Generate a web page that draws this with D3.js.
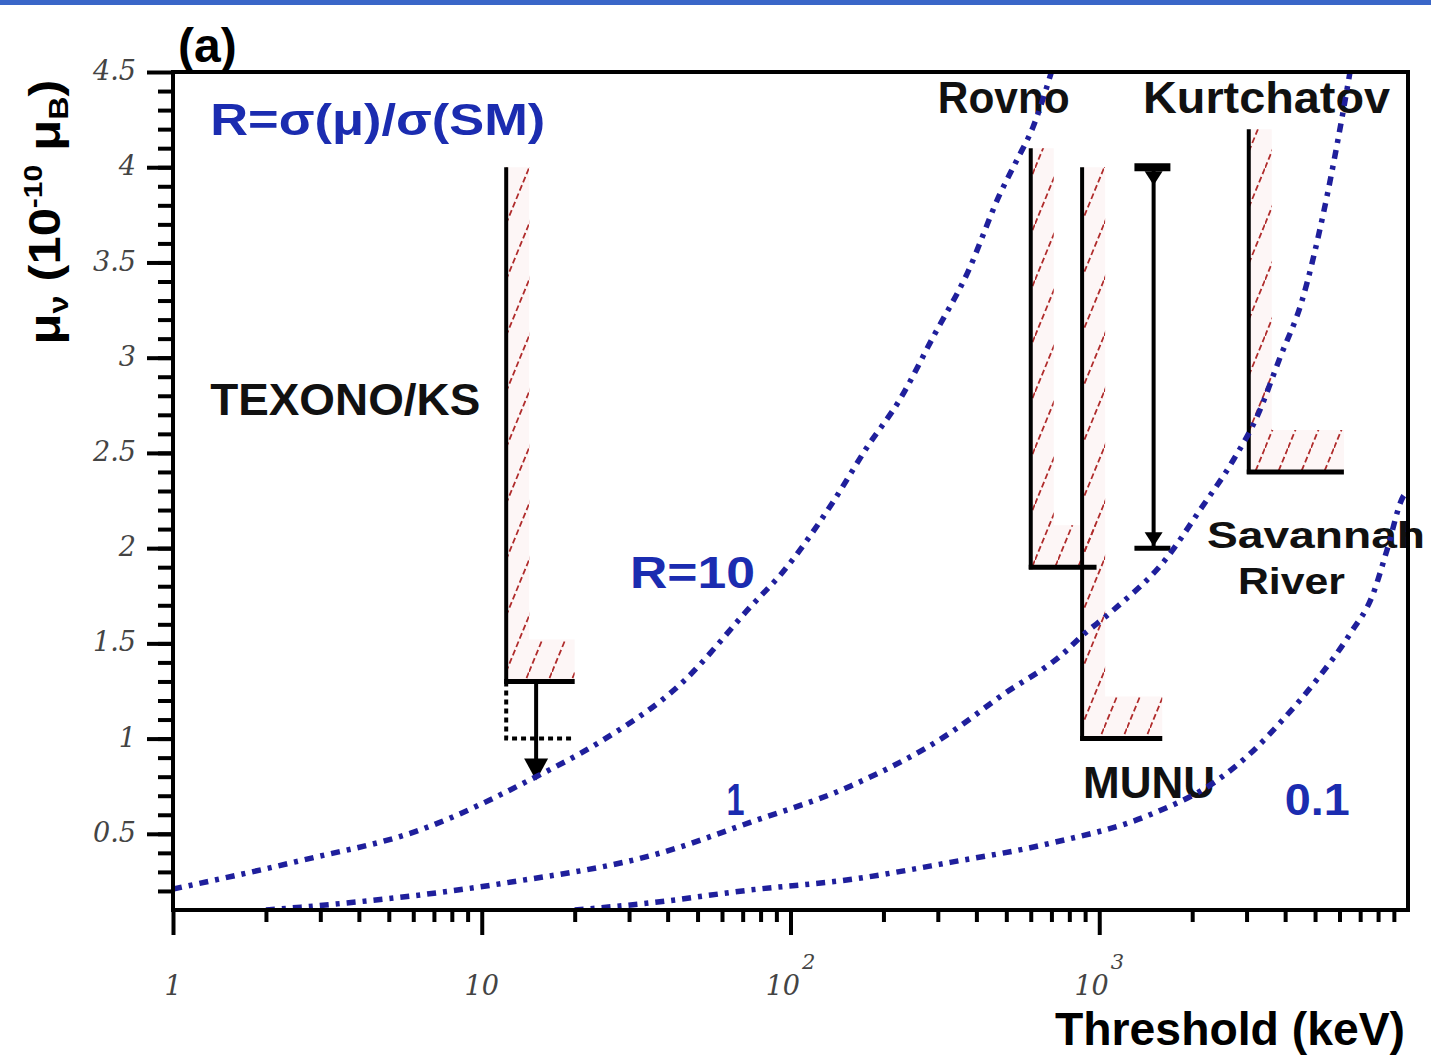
<!DOCTYPE html>
<html>
<head>
<meta charset="utf-8">
<script src="https://cdn.jsdelivr.net/npm/d3@7"></script>
<style>
  body { margin: 0; background: #fff; }
  svg { display: block; }
  .lab { font-family: "Liberation Sans", Arial, sans-serif; font-weight: bold; }
  .tick-lab { font-family: "DejaVu Serif", serif; font-style: italic; fill: #444; font-size: 27px; }
</style>
</head>
<body>
<div id="chart"></div>
<script>
// threshold (keV) vs mu_nu (1e-10 mu_B)
var r10T  = [1, 2.6, 6.3, 15, 24, 45, 74, 95, 137, 177, 226, 290, 373, 477, 542, 610, 700];
var r10Mu = [0.21, 0.36, 0.52, 0.80, 0.98, 1.30, 1.69, 1.88, 2.24, 2.53, 2.78, 3.11, 3.44, 3.86, 4.04, 4.21, 4.5];

var r1T  = [2, 2.6, 11.7, 38, 74, 156, 329, 477, 787, 866, 1084, 1657, 2119, 2712, 3243, 3849, 4538, 5308, 6160, 6490];
var r1Mu = [0.1, 0.115, 0.24, 0.40, 0.56, 0.75, 1.03, 1.22, 1.465, 1.53, 1.66, 1.95, 2.2, 2.46, 2.69, 3.0, 3.3, 3.75, 4.29, 4.5];

var r01T  = [20, 35, 74, 156, 329, 692, 1459, 2405, 3077, 3937, 5071, 6490, 7708, 8551, 9640, 10000];
var r01Mu = [0.1, 0.137, 0.205, 0.26, 0.35, 0.45, 0.60, 0.78, 0.92, 1.1, 1.31, 1.55, 1.76, 1.99, 2.27, 2.3];

// experiment limits (hatched L shapes)
var limitNames = ["TEXONO/KS", "Rovno", "MUNU", "Kurtchatov"];
var limitT     = [12, 600, 880, 3050];
var limitTEnd  = [20, 980, 1600, 6200];
var limitMu    = [1.3, 1.9, 1.0, 2.4];
var limitTop   = [4.0, 4.1, 4.0, 4.2];

// TEXONO sensitivity and arrow
var texSensMu = 1.0;
var texArrowT = 15, texArrowTip = 0.78;

// Savannah River range
var savT = 1500, savLow = 2.0, savHigh = 4.0, savT0 = 1300, savT1 = 1700;

var xMajor = [1, 10, 100, 1000];
var xMajorBase = ["1", "10", "10", "10"];
var xMajorExp  = ["", "", "2", "3"];
var yMajor = [0.5, 1, 1.5, 2, 2.5, 3, 3.5, 4, 4.5];
var yMajorLabels = ["0.5", "1", "1.5", "2", "2.5", "3", "3.5", "4", "4.5"];

// text annotations: [text, T, mu, colour, width, size]
var notes = [
  ["TEXONO/KS", 1.32, 2.70, "#111", 270, 44],
  ["Rovno", 300, 4.285, "#111", 132, 44],
  ["Kurtchatov", 1386, 4.285, "#111", 247, 44],
  ["Savannah", 2234, 2.0, "#111", 218, 36],
  ["River", 2813, 1.76, "#111", 107, 36],
  ["MUNU", 886, 0.69, "#111", 132, 44],
  ["R=10", 30.2, 1.79, "#1b2cb0", 125, 44],
  ["1", 62, 0.60, "#1b2cb0", 18, 44],
  ["0.1", 3986, 0.60, "#1b2cb0", 65, 44]
];

var W = 1431, H = 1056;
var x = d3.scaleLog().domain([1, 1e4]).range([173, 1408]);
var y = d3.scaleLinear().domain([0.1, 4.5]).range([910, 72]);

var svg = d3.select("#chart").append("svg")
    .attr("width", W)
    .attr("height", H);

svg.append("rect").attr("x", 0).attr("y", 0).attr("width", W).attr("height", 5).attr("fill", "#3a66c8");

var defs = svg.append("defs");
defs.append("pattern")
    .attr("id", "hatch")
    .attr("patternUnits", "userSpaceOnUse")
    .attr("width", 23).attr("height", 56)
  .append("line")
    .attr("x1", 0).attr("y1", 56).attr("x2", 23).attr("y2", 0)
    .attr("stroke", "#b02c2c").attr("stroke-width", 1.8)
    .attr("stroke-dasharray", "6,3");
defs.append("clipPath").attr("id", "plotclip")
  .append("rect")
    .attr("x", x(1)).attr("y", y(4.5))
    .attr("width", x(1e4) - x(1)).attr("height", y(0.1) - y(4.5));

// axes
var xMinor = [];
[1, 10, 100, 1000].forEach(function(d) { for (var k = 2; k < 10; k++) xMinor.push(d * k); });

svg.append("g")
    .attr("transform", "translate(0," + y(0.1) + ")")
    .call(d3.axisBottom(x).tickValues(xMinor).tickSize(12).tickFormat(""))
    .call(function(g) { g.select(".domain").remove(); g.selectAll("line").attr("stroke", "#000").attr("stroke-width", 4); });
svg.append("g")
    .attr("transform", "translate(0," + y(0.1) + ")")
    .call(d3.axisBottom(x).tickValues(xMajor).tickSize(25).tickFormat(""))
    .call(function(g) { g.select(".domain").remove(); g.selectAll("line").attr("stroke", "#000").attr("stroke-width", 4); });

var yMinor = d3.range(2, 45).map(function(d) { return d / 10; });
svg.append("g")
    .attr("transform", "translate(" + x(1) + ",0)")
    .call(d3.axisLeft(y).tickValues(yMinor).tickSize(15).tickFormat(""))
    .call(function(g) { g.select(".domain").remove(); g.selectAll("line").attr("stroke", "#000").attr("stroke-width", 4); });
svg.append("g")
    .attr("transform", "translate(" + x(1) + ",0)")
    .call(d3.axisLeft(y).tickValues(yMajor).tickSize(26).tickFormat(""))
    .call(function(g) { g.select(".domain").remove(); g.selectAll("line").attr("stroke", "#000").attr("stroke-width", 4); });

// y tick labels
svg.selectAll(".ylab")
    .data(yMajor)
    .enter()
    .append("text")
    .attr("class", "tick-lab")
    .attr("x", 136)
    .attr("y", function(d) { return y(d); })
    .attr("dy", "0.3em")
    .style("text-anchor", "end")
    .text(function(d, i) { return yMajorLabels[i]; });

// x tick labels
var xl = svg.selectAll(".xlab")
    .data(xMajor)
    .enter()
    .append("text")
    .attr("class", "tick-lab")
    .attr("x", function(d) { return x(d); })
    .attr("y", 995)
    .style("text-anchor", "middle");
xl.append("tspan").text(function(d, i) { return xMajorBase[i]; });
xl.append("tspan")
    .attr("dy", -26)
    .attr("dx", 2)
    .style("font-size", "21px")
    .text(function(d, i) { return xMajorExp[i]; });

// hatched regions
var lim = limitNames.map(function(n, i) {
  return {name: n, t0: limitT[i], t1: limitTEnd[i], mu: limitMu[i], top: limitTop[i]};
});
function lShape(d) {
  var x0 = x(d.t0), x1 = x(d.t1), yt = y(d.top), yb = y(d.mu);
  return "M" + x0 + "," + yt + "H" + (x0 + 23) + "V" + (yb - 42) + "H" + x1 + "V" + yb + "H" + x0 + "Z";
}
svg.selectAll(".hbg").data(lim).enter().append("path")
    .attr("d", lShape).attr("fill", "#fdf6f6");
svg.selectAll(".hatch").data(lim).enter().append("path")
    .attr("d", lShape).attr("fill", "url(#hatch)");

svg.selectAll(".lv").data(lim).enter().append("line")
    .attr("x1", function(d) { return x(d.t0); }).attr("x2", function(d) { return x(d.t0); })
    .attr("y1", function(d) { return y(d.top); }).attr("y2", function(d) { return y(d.mu) + 2; })
    .attr("stroke", "#000").attr("stroke-width", 4);
svg.selectAll(".lh").data(lim).enter().append("line")
    .attr("x1", function(d) { return x(d.t0) - 2; }).attr("x2", function(d) { return x(d.t1); })
    .attr("y1", function(d) { return y(d.mu); }).attr("y2", function(d) { return y(d.mu); })
    .attr("stroke", "#000").attr("stroke-width", 5);

// TEXONO sensitivity (dotted) and arrow
var tex = lim[0];
svg.append("path")
    .attr("d", "M" + x(tex.t0) + "," + y(tex.mu) + "V" + y(texSensMu) + "H" + x(tex.t1))
    .attr("fill", "none").attr("stroke", "#000").attr("stroke-width", 4)
    .attr("stroke-dasharray", "5,4");
svg.append("line")
    .attr("x1", x(texArrowT)).attr("x2", x(texArrowT))
    .attr("y1", y(tex.mu)).attr("y2", y(texArrowTip) - 18)
    .attr("stroke", "#000").attr("stroke-width", 4);
svg.append("path")
    .attr("d", "M" + (x(texArrowT) - 12) + "," + (y(texArrowTip) - 22) + "L" + (x(texArrowT) + 12) + "," + (y(texArrowTip) - 22) +
          "L" + x(texArrowT) + "," + y(texArrowTip) + "Z")
    .attr("fill", "#000");

// Savannah River range
svg.append("line")
    .attr("x1", x(savT)).attr("x2", x(savT)).attr("y1", y(savHigh)).attr("y2", y(savLow))
    .attr("stroke", "#000").attr("stroke-width", 4);
svg.append("line")
    .attr("x1", x(savT0)).attr("x2", x(savT1)).attr("y1", y(savHigh)).attr("y2", y(savHigh))
    .attr("stroke", "#000").attr("stroke-width", 8);
svg.append("line")
    .attr("x1", x(savT0)).attr("x2", x(savT1)).attr("y1", y(savLow)).attr("y2", y(savLow))
    .attr("stroke", "#000").attr("stroke-width", 5);
[savHigh, savLow].forEach(function(v, i) {
  var yy = i === 0 ? y(v) + 4 : y(v) - 16;
  svg.append("path")
      .attr("d", "M" + (x(savT) - 9) + "," + yy + "L" + (x(savT) + 9) + "," + yy + "L" + x(savT) + "," + (yy + 14) + "Z")
      .attr("fill", "#000");
});

// annotations
svg.selectAll(".note").data(notes).enter().append("text")
    .attr("class", "lab")
    .attr("x", function(d) { return x(d[1]); })
    .attr("y", function(d) { return y(d[2]); })
    .attr("fill", function(d) { return d[3]; })
    .attr("textLength", function(d) { return d[4]; })
    .attr("lengthAdjust", "spacingAndGlyphs")
    .style("font-size", function(d) { return d[5] + "px"; })
    .text(function(d) { return d[0]; });

svg.append("text")
    .attr("class", "lab")
    .attr("x", x(1.32)).attr("y", y(4.17))
    .attr("fill", "#1b2cb0")
    .attr("textLength", 335).attr("lengthAdjust", "spacingAndGlyphs")
    .style("font-size", "44px")
    .text("R=σ(μ)/σ(SM)");

// curves
var line = d3.line()
    .x(function(d) { return x(d[0]); })
    .y(function(d) { return y(d[1]); })
    .curve(d3.curveMonotoneX);
var curves = [
  d3.zip(r10T, r10Mu),
  d3.zip(r1T, r1Mu),
  d3.zip(r01T, r01Mu)
];
svg.append("g").attr("clip-path", "url(#plotclip)")
  .selectAll(".curve").data(curves).enter().append("path")
    .attr("d", line)
    .attr("fill", "none")
    .attr("stroke", "#1f1f9c")
    .attr("stroke-width", 5.5)
    .attr("stroke-dasharray", "9,7,4,7");

// frame
svg.append("rect")
    .attr("x", x(1)).attr("y", y(4.5))
    .attr("width", x(1e4) - x(1)).attr("height", y(0.1) - y(4.5))
    .attr("fill", "none").attr("stroke", "#000").attr("stroke-width", 4);

// titles
svg.append("text")
    .attr("class", "lab")
    .attr("x", 178).attr("y", 62)
    .style("font-size", "48px")
    .text("(a)");

svg.append("text")
    .attr("class", "lab")
    .attr("x", 1055).attr("y", 1045)
    .attr("textLength", 350).attr("lengthAdjust", "spacingAndGlyphs")
    .style("font-size", "46px")
    .text("Threshold (keV)");

var yt = svg.append("text")
    .attr("class", "lab")
    .attr("transform", "translate(60,212) rotate(-90)")
    .attr("textLength", 265).attr("lengthAdjust", "spacingAndGlyphs")
    .style("text-anchor", "middle")
    .style("font-size", "44px");
yt.append("tspan").text("μ");
yt.append("tspan").attr("dy", 8).style("font-size", "28px").text("ν");
yt.append("tspan").attr("dy", -8).text(" (10");
yt.append("tspan").attr("dy", -18).style("font-size", "26px").text("-10");
yt.append("tspan").attr("dy", 18).text(" μ");
yt.append("tspan").attr("dy", 8).style("font-size", "28px").text("B");
yt.append("tspan").attr("dy", -8).text(")");
</script>
</body>
</html>
